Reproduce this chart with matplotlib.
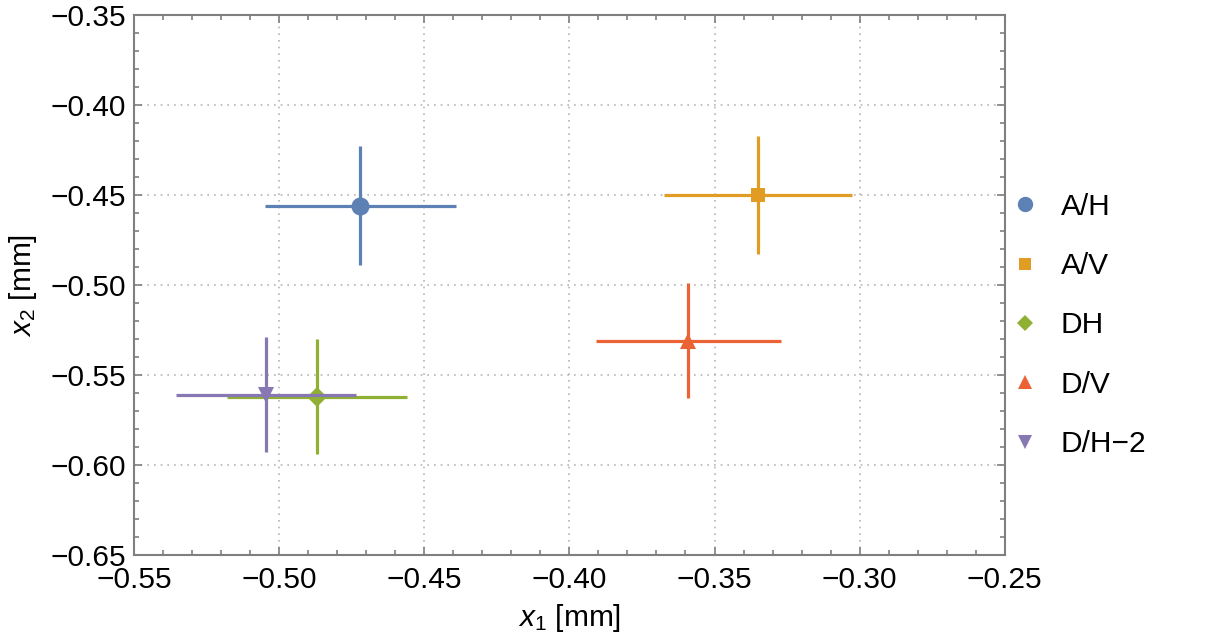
import matplotlib
matplotlib.use('Agg')
import matplotlib.pyplot as plt
from matplotlib.lines import Line2D
from matplotlib.ticker import MultipleLocator, FuncFormatter

labels = ['A/H', 'A/V', 'DH', 'D/V', 'D/H\u22122']
x1 = [-0.472, -0.335, -0.487, -0.359, -0.5045]
x2 = [-0.456, -0.450, -0.562, -0.531, -0.561]
x1_err = [0.033, 0.0325, 0.031, 0.032, 0.031]
x2_err = [0.033, 0.033, 0.032, 0.032, 0.032]

colors = ['#5E81B5', '#E19C24', '#8FB032', '#EB6235', '#8778B3']
markers = ['o', 's', 'D', '^', 'v']
msizes = [13, 10, 10, 12, 12]

plt.rcParams['font.family'] = ['Liberation Sans', 'DejaVu Sans']
plt.rcParams['mathtext.fontset'] = 'custom'
plt.rcParams['mathtext.rm'] = 'Liberation Sans'
plt.rcParams['mathtext.it'] = 'Liberation Sans:italic'

fig = plt.figure(figsize=(12.12, 6.42), dpi=100)
ax = fig.add_axes([0.1106, 0.1355, 0.7184, 0.8411])

for i in range(len(labels)):
    ax.errorbar(x1[i], x2[i], xerr=x1_err[i], yerr=x2_err[i],
                fmt=markers[i], color=colors[i], ms=msizes[i], mew=0,
                elinewidth=2.3, capsize=3.5, capthick=3, zorder=3 + i)

ax.set_xlim(-0.55, -0.25)
ax.set_ylim(-0.65, -0.35)

fmt = FuncFormatter(lambda v, p: f'{v:.2f}'.replace('-', '\u2212'))
ax.xaxis.set_major_locator(MultipleLocator(0.05))
ax.xaxis.set_minor_locator(MultipleLocator(0.01))
ax.yaxis.set_major_locator(MultipleLocator(0.05))
ax.yaxis.set_minor_locator(MultipleLocator(0.01))
ax.xaxis.set_major_formatter(fmt)
ax.yaxis.set_major_formatter(fmt)

ax.tick_params(which='both', direction='in', top=True, right=True,
               color='#7f7f7f', labelsize=21.5, labelcolor='black')
ax.tick_params(which='major', length=6, width=1.2)
ax.tick_params(which='minor', length=3.5, width=1.2)
ax.tick_params(axis='x', which='major', pad=8)
ax.tick_params(axis='y', which='major', pad=6)
for s in ax.spines.values():
    s.set_color('#7f7f7f')
    s.set_linewidth(1.5)

ax.grid(True, which='major', linestyle=(0, (1, 3)), color='#b5b5b5', linewidth=1.2)
ax.set_axisbelow(True)

ax.set_xlabel(r'$x_1$ [mm]', fontsize=21.5, labelpad=6)
ax.set_ylabel(r'$x_2$ [mm]', fontsize=21.5, labelpad=8)

handles = [Line2D([], [], linestyle='none', marker=markers[i], color=colors[i],
                  ms=msizes[i] * 0.85, mew=0) for i in range(len(labels))]
fig.legend(handles, labels, loc='center left', bbox_to_anchor=(0.811, 0.493),
           frameon=False, fontsize=21.5, handlelength=1.0, handletextpad=0.7,
           labelspacing=1.05)

fig.savefig('out.png', dpi=100)
